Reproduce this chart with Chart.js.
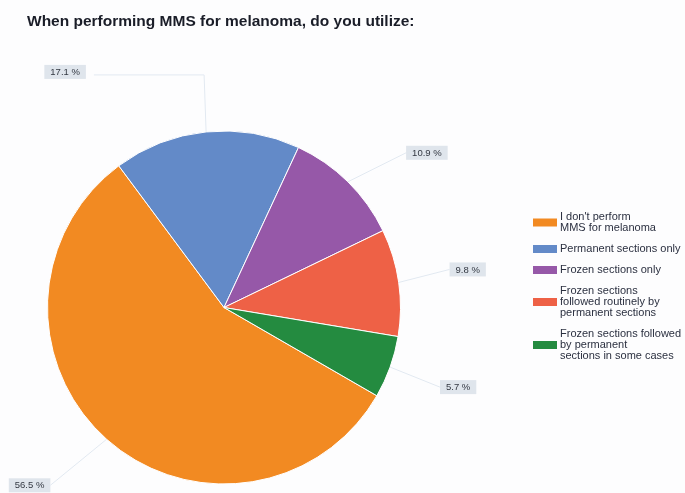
<!DOCTYPE html>
<html lang="en">
<head>
    <meta charset="UTF-8">
    <title>MMS for melanoma</title>
    <script src="https://cdn.jsdelivr.net/npm/chart.js"></script>
    <style>
        body {
            margin: 0;
            background: #fdfdfe;
        }
        #wrap {
            width: 685px;
            height: 493px;
        }
    </style>
</head>
<body>
    <div id="wrap">
        <canvas id="mms-chart" width="685" height="493"></canvas>
    </div>

    <script>
        const chartTitle = 'When performing MMS for melanoma, do you utilize:';
        const categories = [
            ['I don\'t perform', 'MMS for melanoma'],
            ['Permanent sections only'],
            ['Frozen sections only'],
            ['Frozen sections', 'followed routinely by', 'permanent sections'],
            ['Frozen sections followed', 'by permanent', 'sections in some cases']
        ];
        const percentages = [56.5, 17.1, 10.9, 9.8, 5.7];
        const sliceColors = ['#f28a22', '#638ac8', '#9658a8', '#ee6146', '#248b40'];

        // where each value tag sits relative to the slice edge (dx, dy), and
        // whether its leader goes straight up first
        const tagOffsets = [[-77, 46], [-141, -60], [79, -29], [69, -13], [68, 20]];
        const tagElbow = [false, true, false, false, false];

        const calloutPlugin = {
            id: 'callouts',
            afterDraw(chart) {
                const ctx = chart.ctx;
                const arcs = chart.getDatasetMeta(0).data;

                // title
                ctx.save();
                ctx.fillStyle = '#1a1d28';
                ctx.font = 'bold 15.5px "Liberation Sans", Arial, sans-serif';
                ctx.textBaseline = 'alphabetic';
                ctx.textAlign = 'left';
                ctx.fillText(chartTitle, 27, 26, 392);
                ctx.restore();

                // value tags with leader lines
                ctx.save();
                ctx.font = '9.5px "Liberation Sans", Arial, sans-serif';
                arcs.forEach((arc, i) => {
                    const mid = (arc.startAngle + arc.endAngle) / 2;
                    const ex = arc.x + Math.cos(mid) * arc.outerRadius;
                    const ey = arc.y + Math.sin(mid) * arc.outerRadius;
                    const cx = ex + tagOffsets[i][0];
                    const cy = ey + tagOffsets[i][1];
                    const text = percentages[i].toFixed(1) + ' %';
                    const w = ctx.measureText(text).width + 12;
                    const h = 14;

                    ctx.strokeStyle = '#e2e9f1';
                    ctx.lineWidth = 1;
                    ctx.beginPath();
                    ctx.moveTo(ex, ey);
                    if (tagElbow[i]) {
                        ctx.lineTo(ex - 2, cy + 3);
                        ctx.lineTo(cx + w / 2 + 8, cy + 3);
                    } else {
                        const side = tagOffsets[i][0] < 0 ? cx + w / 2 : cx - w / 2;
                        ctx.lineTo(side, cy);
                    }
                    ctx.stroke();

                    ctx.fillStyle = '#dfe5ec';
                    ctx.fillRect(cx - w / 2, cy - h / 2, w, h);
                    ctx.fillStyle = '#333842';
                    ctx.textAlign = 'center';
                    ctx.textBaseline = 'middle';
                    ctx.fillText(text, cx, cy + 0.5);
                });
                ctx.restore();

                // legend on the right
                ctx.save();
                ctx.font = '11px "Liberation Sans", Arial, sans-serif';
                ctx.textAlign = 'left';
                ctx.textBaseline = 'middle';
                const lineH = 11;
                let y = 217;
                categories.forEach((lines, i) => {
                    const blockMid = y + (lines.length - 1) * lineH / 2;
                    ctx.fillStyle = sliceColors[i];
                    ctx.fillRect(533, blockMid - 4, 24, 8);
                    ctx.fillStyle = '#2b3040';
                    lines.forEach((line, j) => {
                        ctx.fillText(line, 560, y + j * lineH, 124);
                    });
                    y += lines.length * lineH + 10;
                });
                ctx.restore();
            }
        };

        const ctx = document.getElementById('mms-chart').getContext('2d');
        new Chart(ctx, {
            type: 'pie',
            data: {
                labels: categories.map(l => l.join(' ')),
                datasets: [{
                    data: percentages,
                    backgroundColor: sliceColors,
                    borderColor: '#ffffff',
                    borderWidth: 1
                }]
            },
            options: {
                responsive: false,
                devicePixelRatio: 1,
                animation: false,
                rotation: 120,
                layout: {
                    padding: { left: 47, right: 284, top: 130, bottom: 8 }
                },
                plugins: {
                    legend: { display: false },
                    title: { display: false },
                    tooltip: { enabled: false }
                }
            },
            plugins: [calloutPlugin]
        });
    </script>
</body>
</html>
